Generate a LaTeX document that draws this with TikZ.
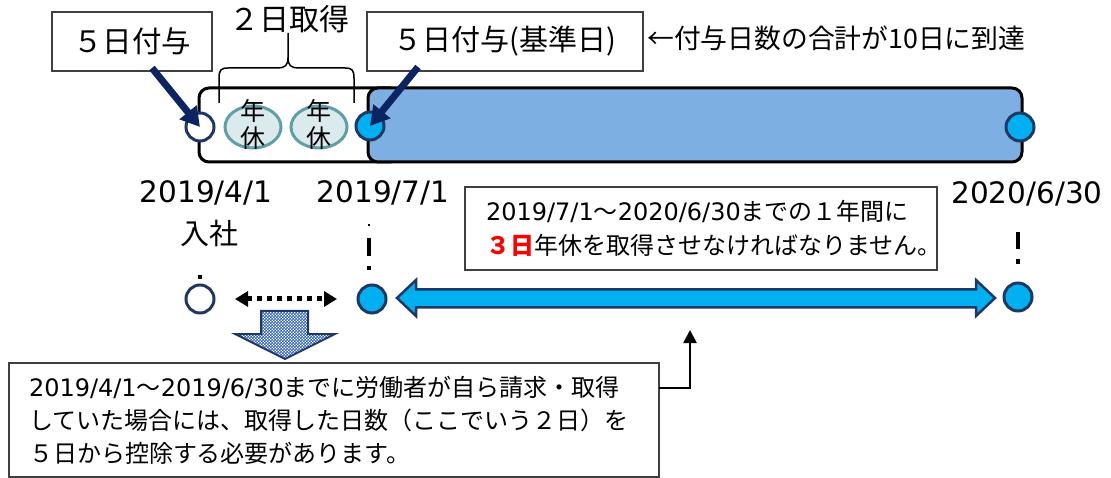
\documentclass[tikz,border=0pt]{standalone}
\usepackage{fontspec}
\setmainfont{Noto Sans CJK JP}
\newfontfamily\lat{DejaVu Sans}
\usetikzlibrary{arrows.meta,shapes.geometric,patterns}
\pgfdeclarepatternformonly{finecheck}{\pgfpointorigin}{\pgfqpoint{3.4pt}{3.4pt}}{\pgfqpoint{3.4pt}{3.4pt}}{%
  \pgfpathrectangle{\pgfpointorigin}{\pgfqpoint{1.75pt}{1.75pt}}%
  \pgfpathrectangle{\pgfqpoint{1.7pt}{1.7pt}}{\pgfqpoint{1.75pt}{1.75pt}}%
  \pgfusepath{fill}}
\definecolor{navy}{HTML}{203864}
\definecolor{darknavy}{HTML}{0C2462}
\definecolor{cyanfill}{HTML}{00B0F0}
\definecolor{barblue}{HTML}{7EAFE3}
\definecolor{tealline}{HTML}{5FA0A8}
\definecolor{tealfill}{HTML}{DBEAED}
\definecolor{checkblue}{HTML}{2F62C8}
\definecolor{boxline}{HTML}{404040}
\begin{document}
\begin{tikzpicture}[x=1pt,y=-1pt,
  lbox/.style={draw=boxline,line width=1.2pt,fill=white,inner sep=0pt},
  dot/.style={circle,draw=navy,line width=3pt,minimum size=28pt,inner sep=0pt},
  nen/.style={ellipse,draw=tealline,fill=tealfill,line width=3pt,minimum width=56pt,minimum height=42pt,inner sep=0pt},
  bar/.style={draw=black,line width=3pt,rounded corners=10pt},
  navyarrow/.style={draw=darknavy,line width=7pt,-{Triangle[length=19pt,width=21pt]}},
  vmark/.style={line width=3.5pt,black},
  datefont/.style={font=\lat\fontsize{29.5}{32}\selectfont}
]
\useasboundingbox (0,0) rectangle (1111,478);
% bars
\draw[bar,fill=white] (199,88) rectangle (400,162);
\draw[bar,fill=barblue] (368,88) rectangle (1022,162);
% ellipses
\node[nen] (e1) at (253,127) {};
\node[nen] (e2) at (319,127) {};
\node[align=center,font=\fontsize{25}{27}\selectfont,inner sep=0pt] at (253,124) {年\\休};
\node[align=center,font=\fontsize{25}{27}\selectfont,inner sep=0pt] at (319,124) {年\\休};
% top circles
\node[dot,fill=white] (c1) at (200,127) {};
\node[dot,fill=cyanfill] (c2) at (370,126) {};
\node[dot,fill=cyanfill] (c3) at (1020,127) {};
% brace
\draw[line width=1.5pt] (219,103) -- (219,78) .. controls (219,70) and (221,68) .. (228,68) -- (278,68) .. controls (285,68) and (288,65) .. (288,58) -- (288,33);
\draw[line width=1.5pt] (288,58) .. controls (288,65) and (291,68) .. (298,68) -- (345,68) .. controls (352,68) and (354,70) .. (354,78) -- (354,103);
\node[font=\fontsize{30}{32}\selectfont] (t2) at (289,19) {２日取得};
% label boxes
\node[lbox,minimum width=160pt,minimum height=59pt,font=\fontsize{29.5}{32}\selectfont] (b1) at (132,41.5) {５日付与};
\node[lbox,minimum width=276pt,minimum height=59pt,font=\fontsize{29}{32}\selectfont] (b2) at (505,41.5) {５日付与(基準日)};
\node[anchor=west,inner sep=0pt,font=\fontsize{26.8}{30}\selectfont] (t10) at (647,38) {←付与日数の合計が10日に到達};
% arrows to circles
\coordinate (a1) at (152,68);
\coordinate (a2) at (418,67);
\draw[navyarrow] (a1) -- (c1.center);
\draw[navyarrow] (a2) -- (c2.center);
% dates
\node[datefont] (d1) at (206,193) {2019/4/1};
\node[font=\fontsize{29}{30}\selectfont] (d1b) at (209,233) {入社};
\node[datefont] (d2) at (383,193) {2019/7/1};
\node[datefont] (d3) at (1027,194) {2020/6/30};
% vertical marks
\draw[vmark] (200,275) -- (200,279);
\draw[line width=1.5pt] (369,224) -- (369,226);
\draw[vmark] (369,238) -- (369,256);
\draw[vmark] (369,266) -- (369,270);
\draw[vmark] (1018,232) -- (1018,249);
\draw[vmark] (1018,259) -- (1018,264);
% right info box
\node[lbox,minimum width=472pt,minimum height=83pt,inner xsep=21pt,text width=430pt,align=left,font=\fontsize{24}{34}\selectfont] (info) at (701,228.5)
  {{\lat 2019/7/1}～{\lat 2020/6/30}までの１年間に\\{\color{red}\bfseries ３日}年休を取得させなければなりません。};
% bottom circles
\node[dot,fill=white] (p1) at (200,299) {};
\node[dot,fill=cyanfill] (p2) at (372,299) {};
\node[dot,fill=cyanfill] (p3) at (1018,297) {};
% dotted double arrow
\coordinate (q1) at (235,299);
\coordinate (q2) at (337,299);
\draw[line width=5pt,dash pattern=on 5pt off 5pt,{Triangle[length=13pt,width=15pt]}-{Triangle[length=13pt,width=15pt]}] (q1) -- (q2);
% big double arrow
\draw[draw=navy,line width=2.5pt,fill=cyanfill,line join=miter]
  (397,298) -- (416,280) -- (416,289.5) -- (976,289.5) -- (976,280) -- (995,298) -- (976,316) -- (976,307.5) -- (416,307.5) -- (416,316) -- cycle;
% checker down arrow
\fill[white] (261,311) -- (308,311) -- (308,334) -- (335,334) -- (285,359) -- (235,334) -- (261,334) -- cycle;
\draw[draw=navy,line width=2pt,pattern=finecheck,pattern color=checkblue,line join=miter]
  (261,311) -- (308,311) -- (308,334) -- (335,334) -- (285,359) -- (235,334) -- (261,334) -- cycle;
% bottom box
\node[draw=boxline,line width=1.5pt,fill=white,minimum width=650pt,minimum height=114pt,inner xsep=20pt,inner ysep=0pt,text width=610pt,align=left,font=\fontsize{24}{33}\selectfont] (low) at (334,420)
  {{\lat 2019/4/1}～{\lat 2019/6/30}までに労働者が自ら請求・取得\\していた場合には、取得した日数（ここでいう２日）を\\５日から控除する必要があります。};
% elbow arrow
\coordinate (ls) at (659,388);
\coordinate (ut) at (690,330);
\draw[line width=2.5pt,-{Triangle[length=13pt,width=13pt]}] (ls) -- (ls -| ut) -- (ut);
\end{tikzpicture}
\end{document}
